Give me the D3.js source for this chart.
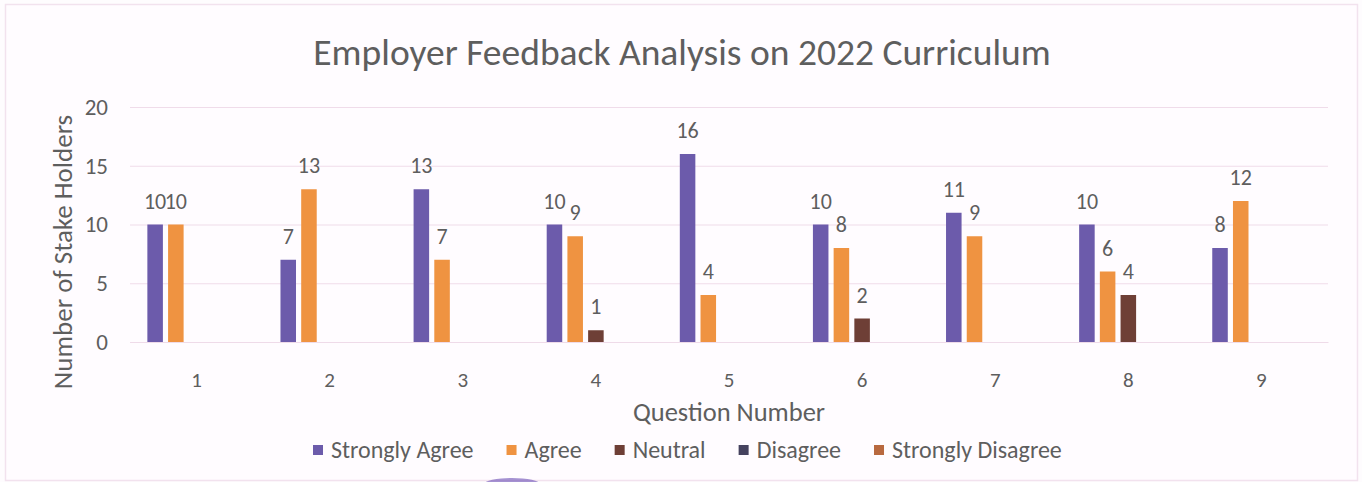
<!DOCTYPE html>
<html>
<head>
<meta charset="utf-8">
<script src="https://cdn.jsdelivr.net/npm/d3@7"></script>
<style>
  body { margin: 0; background: #fefcfe; }
  text { font-family: Carlito, Calibri, Lato, "Open Sans", sans-serif; fill: #5e5e5e; }
</style>
</head>
<body>
<div id="chart"></div>
<script>
var svgWidth = 1362;
var svgHeight = 482;

// data
var questions = ["1", "2", "3", "4", "5", "6", "7", "8", "9"];
var seriesNames = ["Strongly Agree", "Agree", "Neutral", "Disagree", "Strongly Disagree"];
var stronglyAgree = [10, 7, 13, 10, 16, 10, 11, 10, 8];
var agree = [10, 13, 7, 9, 4, 8, 9, 6, 12];
var neutral = [0, 0, 0, 1, 0, 2, 0, 4, 0];
var disagree = [0, 0, 0, 0, 0, 0, 0, 0, 0];
var stronglyDisagree = [0, 0, 0, 0, 0, 0, 0, 0, 0];
var yTicks = [0, 5, 10, 15, 20];

var seriesValues = [stronglyAgree, agree, neutral, disagree, stronglyDisagree];
var colors = ["#6c5bab", "#ef9341", "#6e3f36", "#45425e", "#b8693f"];

var margin = { top: 107, right: 34, bottom: 140, left: 130 };
var chartWidth = svgWidth - margin.left - margin.right;
var chartHeight = 342 - margin.top;

var svg = d3.select("#chart")
  .append("svg")
  .attr("width", svgWidth)
  .attr("height", svgHeight);

// chart area border, faint like the scan
svg.append("rect")
  .attr("x", 5.5).attr("y", 4.5)
  .attr("width", 1352).attr("height", 476)
  .attr("fill", "#fffcff")
  .attr("stroke", "#f2e2ee")
  .attr("stroke-width", 1.5);

svg.append("text")
  .attr("x", 682)
  .attr("y", 65)
  .attr("text-anchor", "middle")
  .style("font-size", "37.5px")
  .text("Employer Feedback Analysis on 2022 Curriculum");

var chartGroup = svg.append("g")
  .attr("transform", `translate(${margin.left}, ${margin.top})`);

var x0 = d3.scaleBand()
  .domain(questions)
  .range([0, chartWidth])
  .paddingInner(0.222)
  .paddingOuter(0.111);

var x1 = d3.scaleBand()
  .domain(seriesNames)
  .range([0, x0.bandwidth()])
  .paddingInner(0.25)
  .paddingOuter(0.125);

var y = d3.scaleLinear()
  .domain([0, 20])
  .range([chartHeight, 0]);

// gridlines
var leftAxis = d3.axisLeft(y).tickValues(yTicks).tickSize(-chartWidth).tickPadding(22);
var yAxisG = chartGroup.append("g").call(leftAxis);
yAxisG.select(".domain").remove();
yAxisG.selectAll(".tick line").attr("stroke", "#f0dcea").attr("stroke-width", 1.2);
yAxisG.selectAll(".tick text").style("font-size", "23px").attr("fill", "#5e5e5e");

var bottomAxis = d3.axisBottom(x0).tickSize(0).tickPadding(30);
var xAxisG = chartGroup.append("g")
  .attr("transform", `translate(0, ${chartHeight})`)
  .call(bottomAxis);
xAxisG.select(".domain").attr("stroke", "#efdbe9").attr("stroke-width", 1.2);
xAxisG.selectAll(".tick text").style("font-size", "21px").attr("fill", "#5e5e5e");

// flatten into rows for drawing
var rows = [];
questions.forEach(function(q, i) {
  seriesNames.forEach(function(s, j) {
    rows.push({ q: q, s: s, v: seriesValues[j][i], c: colors[j] });
  });
});

chartGroup.selectAll(".bar")
  .data(rows.filter(d => d.v > 0))
  .enter()
  .append("rect")
  .attr("class", "bar")
  .attr("x", d => x0(d.q) + x1(d.s))
  .attr("y", d => y(d.v))
  .attr("width", x1.bandwidth())
  .attr("height", d => chartHeight - y(d.v))
  .attr("fill", d => d.c);

chartGroup.selectAll(".label")
  .data(rows.filter(d => d.v > 0))
  .enter()
  .append("text")
  .attr("class", "label")
  .attr("x", d => x0(d.q) + x1(d.s) + x1.bandwidth() / 2)
  .attr("y", d => y(d.v) - 16)
  .attr("text-anchor", "middle")
  .style("font-size", "22px")
  .text(d => d.v);

// axis titles
svg.append("text")
  .attr("transform", "translate(72, 252) rotate(-90)")
  .attr("text-anchor", "middle")
  .style("font-size", "27px")
  .text("Number of Stake Holders");

svg.append("text")
  .attr("x", 729)
  .attr("y", 421)
  .attr("text-anchor", "middle")
  .style("font-size", "26.5px")
  .text("Question Number");

// legend
var legend = svg.append("g").attr("transform", "translate(313, 450)");
var lx = 0;
seriesNames.forEach(function(s, j) {
  var item = legend.append("g").attr("transform", `translate(${lx}, 0)`);
  item.append("rect")
    .attr("x", 0).attr("y", -5)
    .attr("width", 10).attr("height", 10)
    .attr("fill", colors[j]);
  var t = item.append("text")
    .attr("x", 18).attr("y", 8)
    .style("font-size", "24px")
    .text(s);
  lx += 18 + t.node().getComputedTextLength() + 33;
});

// scan smudge at the bottom edge
svg.append("ellipse")
  .attr("cx", 512).attr("cy", 484)
  .attr("rx", 28).attr("ry", 6)
  .attr("fill", "#6a4fb5").attr("opacity", 0.6);
</script>
</body>
</html>
